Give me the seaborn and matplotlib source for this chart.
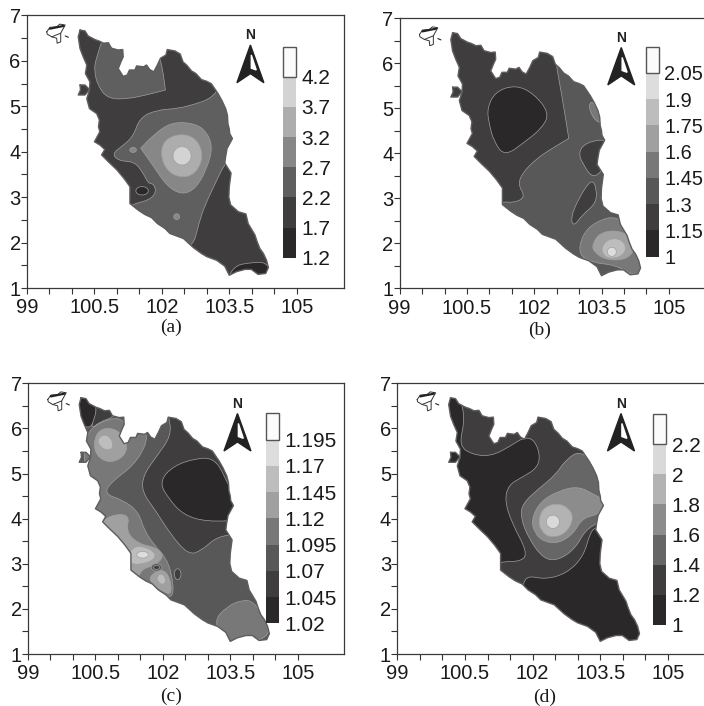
import numpy as np
import matplotlib
matplotlib.use("Agg")
import matplotlib.pyplot as plt
from matplotlib.colors import ListedColormap
from matplotlib.patches import PathPatch, Rectangle
from matplotlib.path import Path
import seaborn as sns

# coastline (lon, lat)
coast_lon = [100.18, 100.29, 100.36, 100.51, 100.60, 100.70, 100.81, 100.88, 101.03, 101.13, 101.14, 101.09, 101.03,
             101.14, 101.23, 101.28, 101.40, 101.44, 101.59, 101.66, 101.73, 101.82, 101.90, 101.97, 102.09, 102.12,
             102.29, 102.41, 102.47, 102.56, 102.66, 102.76, 102.88, 103.00, 103.10, 103.25, 103.34, 103.42, 103.46,
             103.47, 103.50, 103.51, 103.57, 103.45, 103.42, 103.40, 103.54, 103.50, 103.49, 103.53, 103.70, 103.87,
             103.92, 104.07, 104.12, 104.18, 104.26, 104.33, 104.37, 104.31, 104.14, 103.99, 103.85, 103.66, 103.50,
             103.40, 103.22, 103.00, 102.88, 102.70, 102.48, 102.18, 102.07, 101.90, 101.77, 101.62, 101.48, 101.29,
             101.29, 101.16, 101.00, 100.81, 100.66, 100.73, 100.62, 100.50, 100.62, 100.59, 100.61, 100.55, 100.39,
             100.33, 100.39, 100.40, 100.30, 100.33, 100.25, 100.18, 100.14]
coast_lat = [6.68, 6.66, 6.55, 6.47, 6.44, 6.39, 6.40, 6.28, 6.24, 6.25, 6.09, 5.98, 5.83,
             5.66, 5.69, 5.80, 5.80, 5.89, 5.87, 5.91, 5.81, 5.76, 5.91, 6.06, 6.13, 6.25,
             6.22, 6.15, 5.98, 5.90, 5.78, 5.72, 5.59, 5.55, 5.50, 5.28, 5.12, 4.95, 4.80,
             4.62, 4.50, 4.40, 4.29, 4.07, 3.90, 3.75, 3.53, 3.23, 3.00, 2.83, 2.68, 2.63,
             2.42, 2.17, 2.02, 1.87, 1.76, 1.61, 1.45, 1.32, 1.30, 1.41, 1.41, 1.36, 1.28,
             1.48, 1.61, 1.69, 1.76, 1.89, 2.09, 2.20, 2.31, 2.42, 2.55, 2.62, 2.71, 2.86,
             3.23, 3.41, 3.60, 3.78, 3.93, 4.05, 4.15, 4.22, 4.44, 4.55, 4.70, 4.84, 4.95,
             5.17, 5.36, 5.54, 5.72, 5.91, 6.09, 6.27, 6.53]
island_lon = [100.18, 100.29, 100.39, 100.29, 100.14, 100.19]
island_lat = [5.47, 5.47, 5.37, 5.25, 5.25, 5.36]
inset_lon = [99.44, 99.51, 99.66, 99.73, 99.85, 99.81, 99.75, 99.75, 99.67, 99.66, 99.55, 99.45, 99.44]
inset_lat = [6.64, 6.74, 6.75, 6.81, 6.79, 6.72, 6.61, 6.42, 6.39, 6.50, 6.53, 6.59, 6.64]
inset_bar_lon = [99.51, 99.81]
inset_bar_lat = [6.71, 6.77]
inset_cross_lon = [99.55, 99.75]
inset_cross_lat = [6.53, 6.61]
inset_dash_lon = [99.85, 99.92]
inset_dash_lat = [6.55, 6.52]

# colour bar labels, bottom to top
labels_a = ["1.2", "1.7", "2.2", "2.7", "3.2", "3.7", "4.2"]
labels_b = ["1", "1.15", "1.3", "1.45", "1.6", "1.75", "1.9", "2.05"]
labels_c = ["1.02", "1.045", "1.07", "1.095", "1.12", "1.145", "1.17", "1.195"]
labels_d = ["1", "1.2", "1.4", "1.6", "1.8", "2", "2.2"]

greys_a = ["#2b2829", "#403d3e", "#5f5f5f", "#878787", "#adadad", "#d3d3d3", "#fbfbfb"]
greys_b = ["#2b2829", "#403d3e", "#585858", "#787878", "#a0a0a0", "#bdbdbd", "#dddddd", "#fbfbfb"]
greys_d = ["#2b2829", "#403d3e", "#666666", "#8c8c8c", "#b3b3b3", "#d9d9d9", "#fbfbfb"]


def spot(cx, cy, rx, ry):
    # small closed contour given by its centre and half widths
    t = np.arange(8) * np.pi / 4
    return list(cx + rx * np.cos(t)), list(cy + ry * np.sin(t))


# filled contour bands per map: (level, lon, lat), a repeated point keeps a corner sharp
base_a = 1
regions_a = [
    (2, [100.72, 100.54, 100.49, 100.58, 100.80, 101.21, 101.66, 102.08, 102.08, 102.03, 101.97, 101.85, 101.50, 100.90],
        [6.60, 6.06, 5.80, 5.44, 5.17, 5.16, 5.25, 5.36, 5.36, 5.73, 6.02, 6.40, 6.80, 6.90]),
    (2, [100.90, 101.10, 101.36, 101.51, 101.88, 102.36, 102.77, 103.03, 103.18, 103.32, 103.81, 103.81, 103.42, 103.20,
         102.95, 102.83, 102.68, 102.10, 101.21, 101.29, 101.40, 101.73, 101.88, 101.81, 101.70, 101.59, 101.40, 101.03],
        [3.96, 4.11, 4.33, 4.75, 4.92, 4.95, 5.06, 5.15, 5.28, 5.45, 4.92, 4.11, 3.78, 3.33,
         2.80, 2.45, 1.85, 1.98, 2.55, 2.79, 2.86, 2.94, 3.12, 3.30, 3.30, 3.52, 3.78, 3.80]),
    (3, [101.53, 101.53, 101.81, 102.22, 102.76, 103.02, 103.13, 102.99, 102.76, 102.47, 102.13, 101.80],
        [4.08, 4.08, 4.37, 4.66, 4.62, 4.41, 4.07, 3.60, 3.20, 3.05, 3.22, 3.70]),
    (4, [101.97, 102.06, 102.39, 102.73, 102.90, 102.87, 102.65, 102.32, 102.08],
        [3.96, 4.26, 4.40, 4.32, 4.03, 3.71, 3.45, 3.45, 3.63]),
    (5, *spot(102.45, 3.91, 0.22, 0.22)),
    (3, *spot(101.36, 4.04, 0.08, 0.06)),
    (3, *spot(102.33, 2.57, 0.07, 0.07)),
    (0, *spot(101.56, 3.14, 0.15, 0.10)),
    (0, [103.50, 103.50, 103.66, 103.92, 104.33, 104.43, 104.31], [1.20, 1.30, 1.50, 1.55, 1.58, 1.28, 1.20]),
]

base_b = 1
regions_b = [
    (0, [100.95, 101.13, 101.58, 101.99, 102.34, 102.17, 101.80, 101.34, 101.10, 100.99],
        [5.00, 5.37, 5.52, 5.33, 4.89, 4.56, 4.26, 3.93, 4.26, 4.67]),
    (2, [102.43, 102.62, 102.77, 102.77, 102.40, 102.06, 101.73, 101.64, 101.80, 101.58, 101.21, 101.06, 102.40, 103.29,
         104.40, 104.40, 103.81, 103.81, 102.70],
        [6.30, 5.26, 4.33, 4.33, 4.11, 3.89, 3.56, 3.30, 3.04, 2.90, 2.93, 2.67, 1.63, 1.26,
         1.26, 2.67, 3.70, 5.93, 6.52]),
    (1, [103.66, 103.14, 102.98, 103.10, 103.28, 103.48, 103.70], [4.33, 4.24, 4.00, 3.74, 3.47, 3.56, 3.93]),
    (1, [103.28, 102.99, 102.81, 102.88, 103.07, 103.38, 103.39], [3.44, 3.00, 2.56, 2.37, 2.63, 2.89, 3.22]),
    (3, [103.20, 103.30, 103.59, 103.36], [5.04, 5.19, 4.67, 4.70]),
    (3, [103.88, 103.36, 103.07, 102.98, 103.33, 103.81, 104.25, 104.48, 104.33],
        [2.63, 2.48, 2.19, 1.74, 1.56, 1.52, 1.26, 1.48, 2.07]),
    (4, [103.29, 103.44, 103.81, 104.18, 104.25, 104.03, 103.59, 103.33], [1.96, 2.22, 2.30, 2.15, 1.85, 1.63, 1.63, 1.81]),
    (5, [103.48, 103.66, 103.96, 104.07, 103.88, 103.59], [1.89, 2.11, 2.09, 1.85, 1.67, 1.67]),
    (6, *spot(103.73, 1.81, 0.11, 0.11)),
]

base_c = 2
regions_c = [
    (1, [100.49, 100.97, 100.94, 100.60, 100.38, 100.53], [6.70, 6.56, 6.26, 6.15, 5.97, 6.48]),
    (0, [100.05, 100.38, 100.53, 100.48, 100.37, 100.05], [6.78, 6.82, 6.48, 6.22, 5.97, 6.19]),
    (3, [100.27, 100.60, 101.08, 101.23, 101.64, 101.63, 101.34, 100.86, 100.69, 101.12, 101.46, 101.58, 101.83,
         102.05, 102.20, 102.25, 101.94, 101.23, 101.12, 100.53, 100.38, 100.49, 100.23],
        [5.85, 6.15, 6.26, 5.93, 5.97, 5.63, 5.17, 4.82, 4.55, 4.41, 4.15, 3.75, 3.39,
         3.16, 2.79, 2.23, 2.34, 2.64, 3.08, 3.90, 4.27, 4.63, 5.23]),
    (1, [102.12, 102.20, 101.83, 101.57, 101.53, 101.86, 102.16, 102.57, 102.87, 103.20, 103.72, 104.01, 102.83, 102.09],
        [6.30, 5.85, 5.34, 4.97, 4.60, 4.15, 3.67, 3.19, 3.30, 3.60, 3.67, 5.30, 6.56, 6.56]),
    (0, [101.92, 102.23, 102.75, 103.12, 103.36, 103.79, 102.98, 102.46, 102.12],
        [4.82, 5.17, 5.34, 5.34, 5.00, 3.97, 3.93, 4.08, 4.45]),
    (1, *spot(102.33, 2.77, 0.08, 0.13)),
    (3, [103.12, 103.42, 103.76, 104.05, 104.53, 103.42], [1.72, 2.05, 2.20, 2.16, 1.38, 1.16]),
    (4, [100.45, 100.59, 100.97, 101.23, 101.14, 100.82, 100.54], [5.67, 6.00, 6.00, 5.67, 5.37, 5.23, 5.37]),
    (5, [100.54, 100.68, 100.86, 100.90, 100.75, 100.60], [5.74, 5.88, 5.78, 5.56, 5.51, 5.60]),
    (4, [100.60, 100.82, 101.27, 101.18, 101.46, 101.86, 102.03, 101.83, 101.53, 101.46, 101.12, 100.97],
        [3.86, 4.08, 4.10, 3.71, 3.44, 3.36, 3.16, 2.97, 2.88, 2.68, 2.79, 3.23]),
    (5, [101.23, 101.42, 101.79, 101.85, 101.57, 101.27], [3.23, 3.42, 3.30, 3.12, 2.99, 2.99]),
    (6, *spot(101.55, 3.20, 0.14, 0.08)),
    (4, [101.68, 101.97, 102.16, 102.20, 102.01, 101.79], [2.71, 2.90, 2.71, 2.31, 2.38, 2.53]),
    (5, [101.86, 101.97, 102.07, 102.03, 101.90], [2.71, 2.79, 2.68, 2.53, 2.58]),
    (2, *spot(101.86, 2.92, 0.13, 0.09)),
    (1, *spot(101.86, 2.92, 0.07, 0.05)),
]

base_d = 0
regions_d = [
    (1, [100.36, 100.51, 100.36, 100.69, 101.10, 101.51, 101.80, 102.03, 102.17, 102.10, 101.77, 101.47, 101.38, 101.54,
         101.88, 101.77, 101.25, 101.06, 101.77, 101.83, 102.28, 102.76, 103.13, 103.28, 103.43, 103.84, 103.84, 103.02,
         102.14, 100.95],
        [6.78, 6.22, 5.61, 5.41, 5.39, 5.61, 5.80, 5.76, 5.41, 5.12, 4.92, 4.75, 4.41, 3.90,
         3.27, 3.05, 3.05, 2.86, 2.34, 2.75, 2.65, 2.79, 3.16, 3.71, 3.82, 3.82, 5.30, 5.97,
         6.48, 6.85]),
    (2, [101.73, 101.78, 102.14, 102.51, 102.73, 103.06, 103.39, 103.76, 103.50, 103.17, 102.95, 102.58, 102.25, 101.91],
        [4.04, 4.34, 4.67, 4.97, 5.30, 5.52, 5.15, 4.34, 3.93, 3.75, 3.34, 3.08, 3.10, 3.56]),
    (3, [101.97, 102.17, 102.58, 103.02, 103.39, 103.73, 103.47, 103.10, 102.91, 102.58, 102.25, 102.05],
        [3.98, 4.38, 4.62, 4.72, 4.52, 4.34, 4.10, 4.01, 3.67, 3.45, 3.49, 3.67]),
    (4, [102.12, 102.25, 102.62, 102.88, 102.88, 102.69, 102.39, 102.20], [3.95, 4.27, 4.35, 4.15, 3.90, 3.64, 3.58, 3.71]),
    (5, *spot(102.45, 3.93, 0.16, 0.16)),
]

x_ticks = [99, 100.5, 102, 103.5, 105]
y_ticks = [1, 2, 3, 4, 5, 6, 7]

# left px, top px, bottom px, px per degree lon, x limit
frames = [(27, 15.5, 288, 44.95, 106.05), (399.7, 18.3, 288.3, 44.85, 106.1),
          (28, 383.3, 654, 44.95, 106.02), (397.3, 383.3, 654, 45.1, 106.1)]
# colour bar left, top, right, bottom in px
bars = [(283.3, 46.7, 296, 257.7), (646, 46.7, 658.7, 256.7), (265.7, 413.3, 279, 623.3), (652.7, 414, 666, 625)]
bar_fonts = [15, 14.4, 15, 15]
arrows = [(103.97, 6.35), (103.94, 6.35), (103.66, 6.33), (103.96, 6.33)]
captions = [("(a)", 171, 327), ("(b)", 540, 330), ("(c)", 171, 696), ("(d)", 545, 697)]

W, H = 704, 706


def smooth(lons, lats):
    # closed quadratic spline that uses the read points as control points
    pts = np.column_stack([lons, lats])
    mids = (pts + np.roll(pts, -1, axis=0)) / 2
    verts = [mids[-1]]
    codes = [Path.MOVETO]
    for p, m in zip(pts, mids):
        verts += [p, m]
        codes += [Path.CURVE3, Path.CURVE3]
    return Path(np.array(verts), codes)


def draw_map(ax, base, regions, greys):
    land = Path.make_compound_path(
        Path(np.column_stack([coast_lon + coast_lon[:1], coast_lat + coast_lat[:1]]), closed=True),
        Path(np.column_stack([island_lon + island_lon[:1], island_lat + island_lat[:1]]), closed=True))
    land_patch = PathPatch(land, fc=greys[base], ec="none", zorder=1)
    ax.add_patch(land_patch)
    for level, lons, lats in regions:
        band = PathPatch(smooth(lons, lats), fc=greys[level], ec="#a0a0a0", lw=0.5, zorder=2)
        ax.add_patch(band)
        band.set_clip_path(land_patch)
    # coast and the small inset outline
    for lons, lats, col, lw in [(coast_lon + coast_lon[:1], coast_lat + coast_lat[:1], "#5e5e5e", 1.0),
                                (island_lon + island_lon[:1], island_lat + island_lat[:1], "#5e5e5e", 1.0),
                                (inset_lon, inset_lat, "#333333", 0.7),
                                (inset_bar_lon, inset_bar_lat, "#222222", 1.6),
                                (inset_cross_lon, inset_cross_lat, "#333333", 0.7),
                                (inset_dash_lon, inset_dash_lat, "#222222", 0.8)]:
        sns.lineplot(x=lons, y=lats, sort=False, estimator=None, color=col, lw=lw, ax=ax, zorder=3)


def draw_arrow(ax, cx, top):
    ax.fill([cx, cx - 0.3, cx, cx + 0.3], [top, top - 0.83, top - 0.63, top - 0.83], color="#222222", zorder=4)
    ax.fill([cx + 0.02, cx + 0.13, cx + 0.02], [top - 0.22, top - 0.55, top - 0.51], color="white", zorder=5)
    ax.text(cx, top + 0.22, "N", fontsize=10, fontweight="bold", ha="center", va="center", color="#222222")


def draw_bar(fig, box, labels, greys, font):
    left, top, right, bottom = box
    cax = fig.add_axes([left / W, 1 - bottom / H, (right - left) / W, (bottom - top) / H])
    n = len(greys)
    cells = np.arange(n)[::-1].reshape(-1, 1)
    sns.heatmap(cells, cmap=ListedColormap(greys), vmin=0, vmax=n - 1, cbar=False, ax=cax,
                xticklabels=False, yticklabels=False)
    cax.add_patch(Rectangle((0, 0), 1, 1, fc="none", ec="#555555", lw=1.0, clip_on=False))
    cax.yaxis.tick_right()
    cax.set_yticks(np.arange(1, n + 1))
    cax.set_yticklabels(labels[::-1], rotation=0, fontsize=font, color="#1a1a1a")
    cax.tick_params(axis="y", length=0, pad=4)
    for s in cax.spines.values():
        s.set_visible(False)


def main():
    sns.set_theme(style="ticks")
    plt.rcParams["font.family"] = ["Liberation Sans", "DejaVu Sans"]
    fig = plt.figure(figsize=(W / 100, H / 100), dpi=100)

    panels = [(base_a, regions_a, greys_a, labels_a), (base_b, regions_b, greys_b, labels_b),
              (base_c, regions_c, greys_b, labels_c), (base_d, regions_d, greys_d, labels_d)]
    for i, (base, regions, greys, labels) in enumerate(panels):
        left, top, bottom, scale, xmax = frames[i]
        width = (xmax - 99) * scale
        ax = fig.add_axes([left / W, 1 - bottom / H, width / W, (bottom - top) / H])
        draw_map(ax, base, regions, greys)
        draw_arrow(ax, *arrows[i])
        ax.set_xlim(99, xmax)
        ax.set_ylim(1, 7)
        ax.set_xticks(np.arange(99, 105.5, 0.5))
        ax.set_xticklabels([("%g" % v) if v in x_ticks else "" for v in np.arange(99, 105.5, 0.5)], fontsize=14.5)
        ax.set_yticks(np.arange(1, 7.5, 0.5))
        ax.set_yticklabels([("%g" % v) if v in y_ticks else "" for v in np.arange(1, 7.5, 0.5)], fontsize=14.5)
        ax.tick_params(axis="both", length=4, width=0.8, color="#333333", labelcolor="#1a1a1a")
        ax.tick_params(axis="x", pad=3.5)
        ax.tick_params(axis="y", pad=0.5)
        ax.set_xlabel("")
        ax.set_ylabel("")
        for s in ax.spines.values():
            s.set_linewidth(0.9)
            s.set_color("#3a3a3a")
        draw_bar(fig, bars[i], labels, greys, bar_fonts[i])
        text, cx, cy = captions[i]
        fig.text(cx / W, 1 - cy / H, text, family="Liberation Serif", fontsize=14, ha="center", va="center",
                 color="#1a1a1a")

    fig.savefig("out.png", dpi=100)


if __name__ == "__main__":
    main()
